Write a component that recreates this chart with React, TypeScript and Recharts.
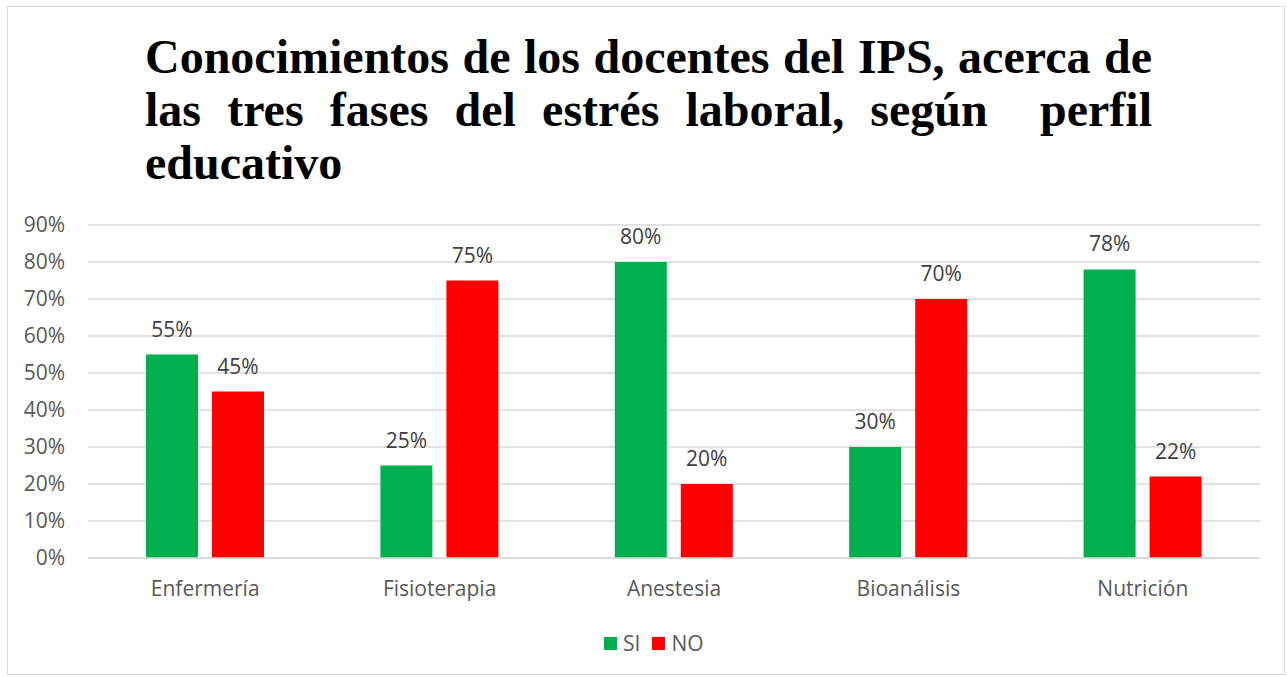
import { BarChart, Bar, XAxis, YAxis, CartesianGrid, Legend, LabelList } from "recharts";

const categories = ["Enfermería", "Fisioterapia", "Anestesia", "Bioanálisis", "Nutrición"];
const siValues = [55, 25, 80, 30, 78];
const noValues = [45, 75, 20, 70, 22];
const yTicks = [0, 10, 20, 30, 40, 50, 60, 70, 80, 90];
const legendItems = [
  { name: "SI", color: "#00b050" },
  { name: "NO", color: "#ff0000" },
];

const data = categories.map((name, i) => ({ name, SI: siValues[i], NO: noValues[i] }));

const font = "'Open Sans', sans-serif";
const pct = (v: number) => `${v}%`;

const titleStyle = {
  fontFamily: "'Liberation Serif', 'Times New Roman', serif",
  fontWeight: 700,
  fontSize: 48,
  lineHeight: "53px",
  color: "#000",
  whiteSpace: "nowrap" as const,
};

// legend kept in series order (SI first), like the original
const LegendContent = () => (
  <div style={{ display: "flex", alignItems: "center", lineHeight: "28px", fontFamily: font, fontSize: 21, color: "#595959" }}>
    {legendItems.map((it) => (
      <div key={it.name} style={{ display: "flex", alignItems: "center", marginRight: 12 }}>
        <span style={{ display: "inline-block", width: 13, height: 13, background: it.color, marginRight: 6 }} />
        <span>{it.name}</span>
      </div>
    ))}
  </div>
);

const App = () => {
  return (
    <div
      style={{
        position: "absolute",
        left: 7,
        top: 6,
        width: 1276,
        height: 667,
        border: "1px solid #d9d9d9",
        background: "#fff",
      }}
    >
      <div style={{ position: "absolute", left: 137, top: 23, width: 1007 }}>
        <div style={{ ...titleStyle, textAlign: "justify", textAlignLast: "justify" }}>
          Conocimientos de los docentes del IPS, acerca de
        </div>
        <div style={{ ...titleStyle, textAlign: "justify", textAlignLast: "justify" }}>
          las tres fases del estrés laboral, según&nbsp; perfil
        </div>
        <div style={titleStyle}>educativo</div>
      </div>
      <div style={{ position: "absolute", left: 0, top: 0 }}>
        <BarChart
          width={1276}
          height={667}
          data={data}
          margin={{ top: 218, right: 24, bottom: 86, left: 0 }}
          barSize={52}
          barGap={14}
        >
          <CartesianGrid vertical={false} stroke="#d9d9d9" strokeWidth={1.5} />
          <XAxis
            dataKey="name"
            height={30}
            axisLine={{ stroke: "#d9d9d9", strokeWidth: 1.5 }}
            tickLine={false}
            tickMargin={17}
            tick={{ fill: "#595959", fontSize: 21, fontFamily: font }}
          />
          <YAxis
            width={80}
            domain={[0, 90]}
            ticks={yTicks}
            tickFormatter={pct}
            axisLine={false}
            tickLine={false}
            tickMargin={17}
            tick={{ fill: "#595959", fontSize: 21, fontFamily: font }}
          />
          <Legend
            verticalAlign="middle"
            align="center"
            content={<LegendContent />}
            wrapperStyle={{ top: 622, left: 596, width: 200 }}
          />
          <Bar dataKey="SI" fill="#00b050" isAnimationActive={false}>
            <LabelList dataKey="SI" position="top" offset={18} formatter={pct} fill="#404040" fontSize={21} fontFamily={font} />
          </Bar>
          <Bar dataKey="NO" fill="#ff0000" isAnimationActive={false}>
            <LabelList dataKey="NO" position="top" offset={18} formatter={pct} fill="#404040" fontSize={21} fontFamily={font} />
          </Bar>
        </BarChart>
      </div>
    </div>
  );
};

export default App;
